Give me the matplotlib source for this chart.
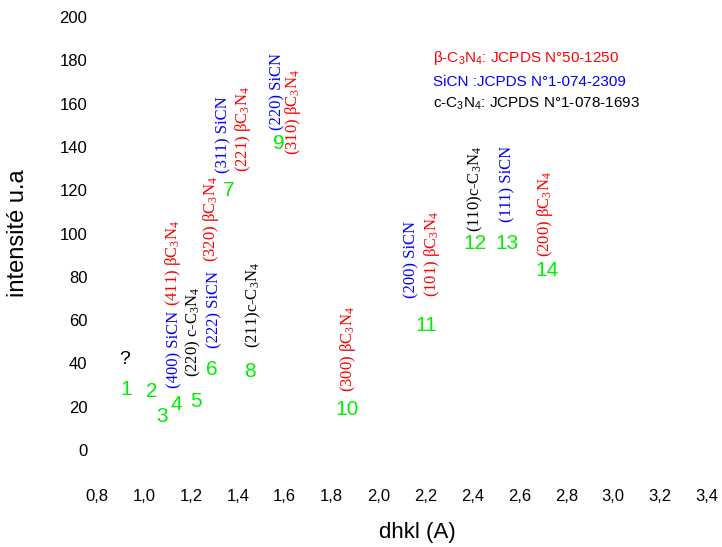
import matplotlib
matplotlib.use("Agg")
import matplotlib.pyplot as plt

# pics numerotes : position d (A) et intensite
pic_labels = ["1", "2", "3", "4", "5", "6", "7", "8", "9", "10", "11", "12", "13", "14"]
pic_d = [0.924, 1.034, 1.076, 1.137, 1.222, 1.289, 1.360, 1.452, 1.575, 1.864, 2.205, 2.411, 2.546, 2.716]
pic_int = [28.0, 26.9, 15.4, 21.2, 22.3, 37.0, 120.0, 36.2, 141.5, 18.5, 57.7, 95.5, 95.5, 83.0]

# indexation (hkl) des pics
hkl_texts = [
    "(400) SiCN",
    r"(411) βC$\mathregular{_3}$N$\mathregular{_4}$",
    r"(220) c-C$\mathregular{_3}$N$\mathregular{_4}$",
    "(222) SiCN",
    r"(320) βC$\mathregular{_3}$N$\mathregular{_4}$",
    r"(211)c-C$\mathregular{_3}$N$\mathregular{_4}$",
    "(311) SiCN",
    r"(221) βC$\mathregular{_3}$N$\mathregular{_4}$",
    "(220) SiCN",
    r"(310) βC$\mathregular{_3}$N$\mathregular{_4}$",
    r"(300) βC$\mathregular{_3}$N$\mathregular{_4}$",
    "(200) SiCN",
    r"(101) βC$\mathregular{_3}$N$\mathregular{_4}$",
    r"(110)c-C$\mathregular{_3}$N$\mathregular{_4}$",
    "(111) SiCN",
    r"(200) βC$\mathregular{_3}$N$\mathregular{_4}$",
]
hkl_colors = ["blue", "red", "black", "blue", "red", "black", "blue", "red",
              "blue", "red", "red", "blue", "red", "black", "blue", "red"]
hkl_d = [1.128, 1.124, 1.209, 1.299, 1.286, 1.465, 1.337, 1.422,
         1.567, 1.635, 1.870, 2.138, 2.228, 2.411, 2.548, 2.710]
hkl_y = [28.6, 66.5, 33.7, 47.1, 86.8, 47.1, 127.9, 128.4,
         148.0, 136.3, 26.8, 70.2, 70.7, 100.7, 105.3, 89.1]

# fiches JCPDS
ref_texts = [
    r"β-C$\mathregular{_3}$N$\mathregular{_4}$: JCPDS N°50-1250",
    "SiCN :JCPDS N°1-074-2309",
    r"c-C$\mathregular{_3}$N$\mathregular{_4}$: JCPDS N°1-078-1693",
]
ref_colors = ["red", "blue", "black"]
ref_y = [181, 170, 160]

x_ticks = [0.8, 1.0, 1.2, 1.4, 1.6, 1.8, 2.0, 2.2, 2.4, 2.6, 2.8, 3.0, 3.2, 3.4]
y_ticks = [0, 20, 40, 60, 80, 100, 120, 140, 160, 180, 200]


def main():
    plt.rcParams['font.family'] = ['Liberation Sans', 'DejaVu Sans']
    fig = plt.figure(figsize=(7.22, 5.47), dpi=100)
    ax = fig.add_axes([97 / 722, 1 - 482.5 / 547, 610 / 722, 465.5 / 547])

    ax.set_xlim(0.8, 3.4)
    ax.set_ylim(-15, 200)
    for s in ax.spines.values():
        s.set_visible(False)

    ax.set_xticks(x_ticks)
    ax.set_xticklabels([f"{v:.1f}".replace(".", ",") for v in x_ticks])
    ax.set_yticks(y_ticks)
    ax.set_yticklabels([str(v) for v in y_ticks])
    ax.tick_params(axis='both', length=0, labelsize=12)
    ax.tick_params(axis='x', pad=5)
    ax.tick_params(axis='y', pad=7)

    ax.set_xlabel("dhkl (A)", fontsize=16)
    ax.set_ylabel("intensité u.a", fontsize=17)
    ax.xaxis.set_label_coords(0.525, -0.085)
    ax.yaxis.set_label_coords(-0.111, 0.536)

    # numeros des pics
    for lab, d, i in zip(pic_labels, pic_d, pic_int):
        ax.text(d, i, lab, color='#00ee00', fontsize=15, ha='center', va='center')
    ax.text(0.92, 41.6, "?", color='black', fontsize=14, ha='center', va='center')

    # indexation
    for t, c, d, y in zip(hkl_texts, hkl_colors, hkl_d, hkl_y):
        ax.text(d, y, t, color=c, fontsize=12, rotation=90, ha='center', va='bottom',
                family=['Liberation Serif', 'DejaVu Serif'])

    for t, c, y in zip(ref_texts, ref_colors, ref_y):
        ax.text(2.232, y, t, color=c, fontsize=11, ha='left', va='center')

    fig.savefig("out.png", dpi=100)


if __name__ == "__main__":
    main()
